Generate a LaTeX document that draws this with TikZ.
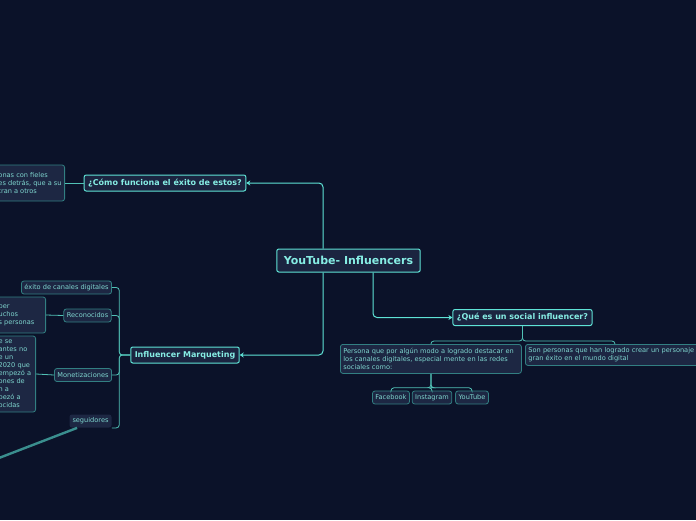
\documentclass[tikz,border=0pt]{standalone}
\usepackage{fontspec}
\setmainfont{DejaVu Sans}
\usetikzlibrary{positioning,arrows.meta,calc}
\definecolor{nightBg}{HTML}{0B1229}
\definecolor{boxFill}{HTML}{1B2440}
\definecolor{topicTeal}{HTML}{5FE3D6}
\definecolor{topicText}{HTML}{86EDE4}
\definecolor{subEdge}{HTML}{327F82}
\definecolor{subFill}{HTML}{1D2743}
\definecolor{subText}{HTML}{7FD6CF}
\definecolor{relTeal}{HTML}{3A8E8E}
\tikzset{
  topic/.style={draw=topicTeal, fill=boxFill, text=topicText, rounded corners=2pt,
                line width=1pt, font=\fontsize{8}{9.5}\selectfont\bfseries,
                inner xsep=4pt, minimum height=16pt},
  central/.style={topic, font=\fontsize{11}{13}\selectfont\bfseries,
                  minimum height=23pt, inner xsep=7pt},
  leaf/.style={draw=subEdge, fill=subFill, text=subText, rounded corners=2.5pt,
               line width=0.8pt, font=\fontsize{6.6}{8}\selectfont, inner xsep=3pt,
               inner ysep=2.5pt, align=left},
  tag/.style={leaf, minimum height=13pt, inner ysep=1pt},
  link/.style={draw=topicTeal, line width=1pt, rounded corners=4pt},
  arrowlink/.style={link, -{Stealth[length=4pt, width=5pt]}},
  sublink/.style={draw=topicTeal!85!black, line width=0.8pt, rounded corners=3pt},
  relation/.style={draw=relTeal, line width=2.4pt},
}

\begin{document}
\begin{tikzpicture}[x=1pt, y=-1pt]

% ------------------------------------------------------------ the canvas
\useasboundingbox (0,0) rectangle (696,520);
\clip (0,0) rectangle (696,520);
\fill[nightBg] (0,0) rectangle (696,520);

% -------------------------------------------------------------- the root
\node[central] (root) at (348.5,260.5) {YouTube- Influencers};

% ------------------------------------------------------ the three topics
\node[topic] (como) at (165,183) {¿Cómo funciona el éxito de estos?};
\node[topic] (marq) at (185,355) {Influencer Marqueting};
\node[topic] (quees) at (522.5,317.5) {¿Qué es un social influencer?};

\draw[arrowlink] ([xshift=-25.5pt]root.north) |- (como.east);
\draw[arrowlink] ([xshift=-25.5pt]root.south) |- (marq.east);
\draw[arrowlink] ([xshift=24.5pt]root.south) |- (quees.west);

% ------------------------------------------- how the success works (cut)
\node[leaf, anchor=east, minimum height=36pt] (comoNote) at (65,183)
  {onas con fieles\\es detrás, que a su\\tran a otros};
\draw[sublink] (como.west) -- (comoNote.east);

% ------------------------------------------------ the marketing branch
\node[tag] (exito) at (66.5,287.5) {éxito de canales digitales};
\node[tag] (recon) at (87.5,315.5) {Reconocidos};
\node[tag] (monet) at (83,375) {Monetizaciones};
\node[tag, draw=none] (segui) at (90.5,421) {seguidores};

\foreach \c in {exito, recon, monet}
  \draw[sublink] (marq.west) -- ++(-11,0) |- (\c.east);
\draw[sublink] (marq.west) -- ++(-11,0) |- (segui.south east);

\node[leaf, anchor=east, text width=44pt, minimum height=36pt] (reconNote) at (46,315)
  {ber\\uchos\\s personas};
\draw[sublink] (recon.west) -- (reconNote.east);

\node[leaf, anchor=east, text width=34pt, minimum height=76pt] (monetNote) at (36,374)
  {e se\\antes no\\e un\\2020 que\\empezó a\\ones de\\n a\\pezó a\\ocidas};
\draw[sublink] (monet.west) -- (monetNote.east);

\coordinate (relEnd) at (-40,473);
\draw[relation] ([xshift=8pt]segui.south west) -- (relEnd);

% --------------------------------------------- what an influencer is
\node[leaf, anchor=north west, text width=175pt, minimum height=29pt] (persona) at (340,344)
  {Persona que por algún modo a logrado destacar en\\los canales digitales, especial mente en las redes\\sociales como:};
\node[leaf, anchor=north west, text width=190pt, minimum height=21pt] (son) at (525,344)
  {Son personas que han logrado crear un personaje c\\gran éxito en el mundo digital};

\draw[sublink] (quees.south) -- ++(0,15) -| (persona.north);
\draw[sublink] (quees.south) -- ++(0,15) -| ([xshift=90pt]son.north west);

% the networks
\node[tag] (facebook) at (391,397.5) {Facebook};
\node[tag] (instagram) at (432,397.5) {Instagram};
\node[tag] (youtube) at (472,397.5) {YouTube};

\foreach \c in {facebook, instagram, youtube}
  \draw[sublink] (persona.south) -- ++(0,14) -| (\c.north);

\end{tikzpicture}
\end{document}
